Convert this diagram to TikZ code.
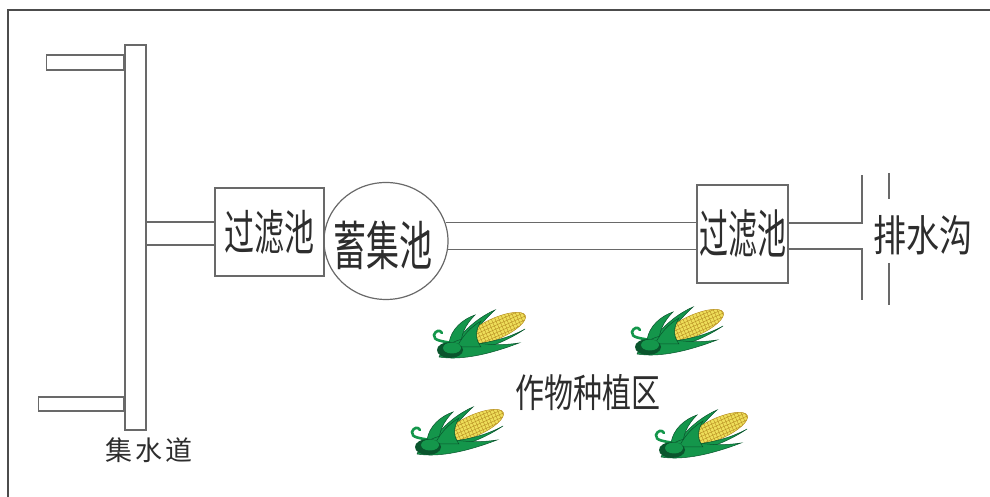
\documentclass[tikz,border=0pt]{standalone}
\usepackage{fontspec}
\usepackage{tikz}
\usetikzlibrary{shapes.geometric}
\newfontfamily\cjk{Noto Sans CJK SC}
\definecolor{linegray}{RGB}{105,105,105}
\definecolor{textgray}{RGB}{45,45,45}
\definecolor{leafgreen}{RGB}{20,150,75}
\definecolor{leafdark}{RGB}{10,85,45}
\definecolor{cobyellow}{RGB}{238,222,90}
\definecolor{kernel}{RGB}{185,145,35}
\newcommand{\cjksize}[1]{\cjk\fontsize{#1}{#1}\selectfont}
\newcommand{\vstretch}[2]{\scalebox{1}[#1]{#2}}
\newcommand{\drawCorn}[2]{% center: x,y
  \begin{scope}[shift={(#1,#2)}]
    % stem curl
    \draw[leafgreen, line width=2.6pt, line cap=round] (-26,-8) .. controls (-34,-6) and (-44,-6) .. (-43,0)
        .. controls (-42,4) and (-37,6) .. (-35,2);
    % husk leaves behind the cob
    \filldraw[fill=leafgreen, draw=leafdark, line width=.5pt] (-22,-8) .. controls (-12,6) and (2,18) .. (18,25)
        .. controls (6,14) and (-4,2) .. (-10,-10) -- cycle;
    \filldraw[fill=leafgreen, draw=leafdark, line width=.5pt] (-28,-8) .. controls (-26,6) and (-14,16) .. (-2,20)
        .. controls (-12,10) and (-16,0) .. (-16,-10) -- cycle;
    % cob
    \begin{scope}[shift={(19,6.5)}, rotate=24]
      \filldraw[fill=cobyellow, draw=kernel, line width=.5pt] (0,0) ellipse (32 and 10.5);
      \clip (0,0) ellipse (32 and 10.5);
      \foreach \k in {-32,-28.5,...,32} \draw[kernel, line width=.45pt] (\k,-11) -- (\k,11);
      \foreach \k in {-7.5,-4,...,8} \draw[kernel, line width=.45pt] (-32,\k) -- (32,\k);
    \end{scope}
    % husk leaves in front
    \filldraw[fill=leafgreen, draw=leafdark, line width=.5pt] (-10,-10) .. controls (10,-8) and (30,-4) .. (48,6)
        .. controls (30,-6) and (10,-14) .. (-8,-16) -- cycle;
    \filldraw[fill=leafgreen, draw=leafdark, line width=.5pt] (-38,-22) .. controls (-14,-26) and (16,-18) .. (42,-8)
        .. controls (16,-12) and (-4,-8) .. (-14,-4) .. controls (-24,-6) and (-34,-12) .. (-38,-22) -- cycle;
    \filldraw[fill=leafgreen, draw=leafdark, line width=.5pt] (-20,-12) .. controls (-14,0) and (-6,8) .. (4,14)
        .. controls (-2,4) and (-2,-4) .. (4,-12) -- cycle;
    \fill[leafdark] (-27,-15) ellipse (13 and 8);
    \fill[leafgreen] (-25,-13) ellipse (9 and 5.5);
  \end{scope}
}

\begin{document}
\begin{tikzpicture}[x=1pt,y=1pt,
    wall/.style={draw=linegray, line width=1.2pt},
    pool/.style={draw=linegray, line width=1.2pt, inner sep=0pt, text=textgray},
    txt/.style={text=textgray, inner sep=0pt}]
\useasboundingbox (0,0) rectangle (990,497);
% frame
\draw[black!70, line width=1.5pt] (8,0) -- (8,487) -- (990,487);

% collecting channel and its inlets
\node[pool, minimum width=21pt, minimum height=385pt] (chan) at (135.5,259.5) {};
\node[pool, minimum width=77pt, minimum height=15pt, anchor=east] (inA) at (chan.west |- 0,434.5) {};
\node[pool, minimum width=85pt, minimum height=14pt, anchor=east] (inB) at (chan.west |- 0,93) {};
\node[txt, font=\cjksize{27}] (channame) at (149,47) {集\hspace{3pt}水\hspace{3pt}道};

% pools
\node[pool, minimum width=109pt, minimum height=88pt, font=\cjksize{30}] (lpool) at (269.5,265) {\vstretch{1.6}{过滤池}};
\node[pool, ellipse, minimum width=124pt, minimum height=117pt] (store) at (386,256) {};
\node[txt, font=\cjksize{33}] (storename) at ([xshift=-3pt,yshift=-4pt]store.center) {\vstretch{1.6}{蓄集池}};
\node[pool, minimum width=91pt, minimum height=98pt, font=\cjksize{29}] (rpool) at (742.5,263) {\vstretch{1.8}{过滤池}};

% pipes
\foreach \dy in {10,-13}
  \draw[wall] ([yshift=\dy pt]lpool.west) -- ([yshift=\dy pt]lpool.west -| chan.east);
\foreach \a in {17,-8}
  \draw[wall] (store.\a) -- (store.\a -| rpool.west);

% outlet to the drain
\coordinate (bankA) at (862,322);
\coordinate (bankB) at (862,197);
\draw[wall] ([yshift=11pt]rpool.east) -| (bankA);
\draw[wall] ([yshift=-15pt]rpool.east) -| (bankB);
\draw[wall] (889,324) -- (889,298);
\draw[wall] (889,234) -- (889,192);
\node[txt, font=\cjksize{33}] (ditch) at (923,262) {\vstretch{1.3}{排水沟}};

% field
\node[txt, font=\cjksize{29}] (field) at (588,104) {\vstretch{1.35}{作物种植区}};
\drawCorn{477}{162}
\drawCorn{675}{165}
\drawCorn{455}{65}
\drawCorn{699}{62}
\end{tikzpicture}
\end{document}
